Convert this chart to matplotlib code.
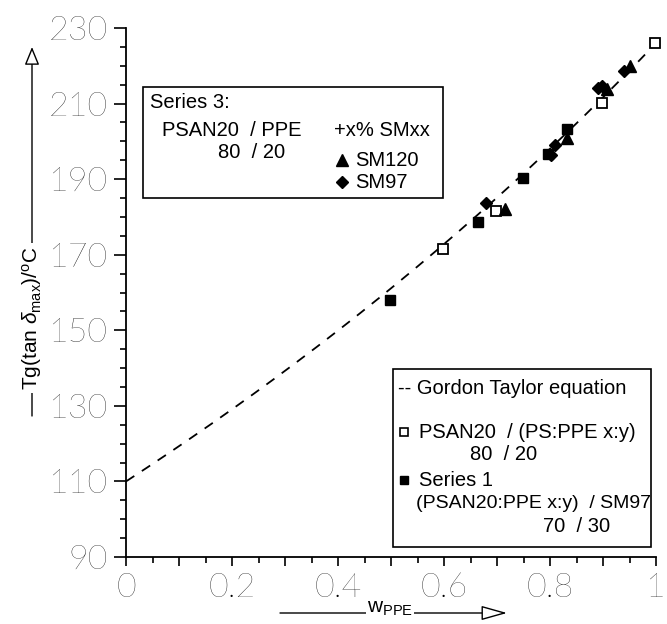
import numpy as np
import matplotlib
matplotlib.use("Agg")
import matplotlib.pyplot as plt
from matplotlib.transforms import Affine2D
from matplotlib.patches import Rectangle, FancyArrowPatch
from matplotlib.lines import Line2D

plt.rcParams['font.family'] = ['Liberation Sans', 'DejaVu Sans']
plt.rcParams['mathtext.fontset'] = 'custom'
plt.rcParams['mathtext.rm'] = 'Liberation Sans'
plt.rcParams['mathtext.it'] = 'Liberation Sans:italic'

# ---- data ----
# PSAN20 / (PS:PPE x:y) 80/20  (open squares)
ref_x = [0.598, 0.698, 0.898, 0.998]
ref_y = [171.6, 181.6, 210.2, 226.1]
# Series 1 (filled squares)
s1_x = [0.498, 0.664, 0.749, 0.796, 0.832]
s1_y = [157.9, 178.7, 190.4, 196.6, 203.3]
# Series 3 + SM120 (triangles)
sm120_x = [0.715, 0.833, 0.907, 0.951]
sm120_y = [182.0, 200.9, 213.9, 220.0]
# Series 3 + SM97 (diamonds)
sm97_x = [0.679, 0.801, 0.809, 0.891, 0.898, 0.940]
sm97_y = [183.8, 196.4, 199.0, 214.1, 214.7, 218.6]

# Gordon Taylor parameters
TG_PPE = 226.0
TG_PSAN = 110.0
K_GT = 1.27

xticks = [0.0, 0.1, 0.2, 0.3, 0.4, 0.5, 0.6, 0.7, 0.8, 0.9, 1.0]
xticklabels = ['0', '', '0.2', '', '0.4', '', '0.6', '', '0.8', '', '1']
yticks = [90, 110, 130, 150, 170, 190, 210, 230]

W, H = 667, 624
fig = plt.figure(figsize=(W / 100, H / 100), dpi=100)
px = Affine2D().scale(1 / W, -1 / H).translate(0, 1) + fig.transFigure

x0, x1, ytop, ybot = 126, 656, 28, 557
ax = fig.add_axes([x0 / W, (H - ybot) / H, (x1 - x0) / W, (ybot - ytop) / H])
ax.set_xlim(0, 1)
ax.set_ylim(90, 230)
for s in ('top', 'right'):
    ax.spines[s].set_visible(False)
for s in ('left', 'bottom'):
    ax.spines[s].set_linewidth(1.3)

tickfont = dict(family=['Lato', 'DejaVu Sans'], weight='light', size=24.5)
ax.set_xticks(xticks)
ax.set_xticklabels(xticklabels, **tickfont)
ax.set_xticks(np.arange(0.05, 1.0, 0.1), minor=True)
ax.set_yticks(yticks)
ax.set_yticklabels([str(v) for v in yticks], **tickfont)
ax.set_yticks(np.arange(90, 231, 5), minor=True)
ax.tick_params(axis='y', which='major', direction='out', length=9, width=1.2, pad=4)
ax.tick_params(axis='y', which='minor', direction='out', length=4.5, width=1.2)
ax.tick_params(axis='x', which='major', direction='out', length=6.5, width=1.2, pad=5)
ax.tick_params(axis='x', which='minor', direction='out', length=4, width=1.2)

# Gordon Taylor curve
w = np.linspace(0, 1, 201)
tg = (w * TG_PPE + K_GT * (1 - w) * TG_PSAN) / (w + K_GT * (1 - w))
ax.plot(w, tg, color='black', lw=1.3, dashes=(5.5, 5), zorder=1)

mk = dict(linestyle='none', color='black', zorder=3, clip_on=False)
ax.plot(ref_x, ref_y, marker='s', markersize=6.5, markerfacecolor='white',
        markeredgewidth=1.3, **mk)
ax.plot(s1_x, s1_y, marker='s', markersize=6.5, **mk)
ax.plot(sm120_x, sm120_y, marker='^', markersize=8, **mk)
ax.plot(sm97_x, sm97_y, marker='D', markersize=6, **mk)

# ---- axis labels with arrows ----
arr = FancyArrowPatch((32, 416), (32, 47), transform=px, arrowstyle='-|>,head_length=11,head_width=4.5',
                      mutation_scale=1, lw=1.0, ec='black', fc='white', shrinkA=0, shrinkB=0)
fig.add_artist(arr)
fig.text(32, 318, r'Tg(tan $\delta_{\rm max}$)/$^{\rm o}$C', transform=px, rotation=90,
         ha='center', va='center', fontsize=15,
         bbox=dict(fc='white', ec='none', pad=2))

arr2 = FancyArrowPatch((280, 613), (507, 613), transform=px, arrowstyle='-|>,head_length=16,head_width=4.5',
                       mutation_scale=1, lw=1.0, ec='black', fc='white', shrinkA=0, shrinkB=0)
fig.add_artist(arr2)
fig.text(390, 609, r'w$_{\rm PPE}$', transform=px, ha='center', va='center', fontsize=15,
         bbox=dict(fc='white', ec='none', pad=1))

# ---- legend box 1 (upper left) ----
fs = 14.5
fig.add_artist(Rectangle((143, 87), 300, 111, transform=px, fill=False, ec='black', lw=1.2))
fig.text(150, 103, 'Series 3:', transform=px, fontsize=fs, va='center')
fig.text(162, 130, 'PSAN20  / PPE', transform=px, fontsize=fs, va='center')
fig.text(218, 152, '80  / 20', transform=px, fontsize=fs, va='center')
fig.text(334, 130, '+x% SMxx', transform=px, fontsize=fs, va='center')
fig.add_artist(Line2D([342], [160], transform=px, marker='^', markersize=8, color='black'))
fig.text(355, 160, 'SM120', transform=px, fontsize=fs, va='center')
fig.add_artist(Line2D([342], [182], transform=px, marker='D', markersize=6, color='black'))
fig.text(355, 182, 'SM97', transform=px, fontsize=fs, va='center')

# ---- legend box 2 (lower right) ----
fig.add_artist(Rectangle((393, 369), 258, 178, transform=px, fill=False, ec='black', lw=1.2))
fig.text(398, 388, '-- Gordon Taylor equation', transform=px, fontsize=fs, va='center')
fig.add_artist(Line2D([404], [432], transform=px, marker='s', markersize=5.5, color='black',
                      markerfacecolor='white', markeredgewidth=1.2))
fig.text(419, 432, 'PSAN20  / (PS:PPE x:y)', transform=px, fontsize=fs, va='center')
fig.text(470, 455, '80  / 20', transform=px, fontsize=fs, va='center')
fig.add_artist(Line2D([404], [480], transform=px, marker='s', markersize=5.5, color='black'))
fig.text(419, 480, 'Series 1', transform=px, fontsize=fs, va='center')
fig.text(416, 503, '(PSAN20:PPE x:y)  / SM97', transform=px, fontsize=14, va='center')
fig.text(543, 526, '70  / 30', transform=px, fontsize=fs, va='center')

fig.savefig('out.png', dpi=100)
